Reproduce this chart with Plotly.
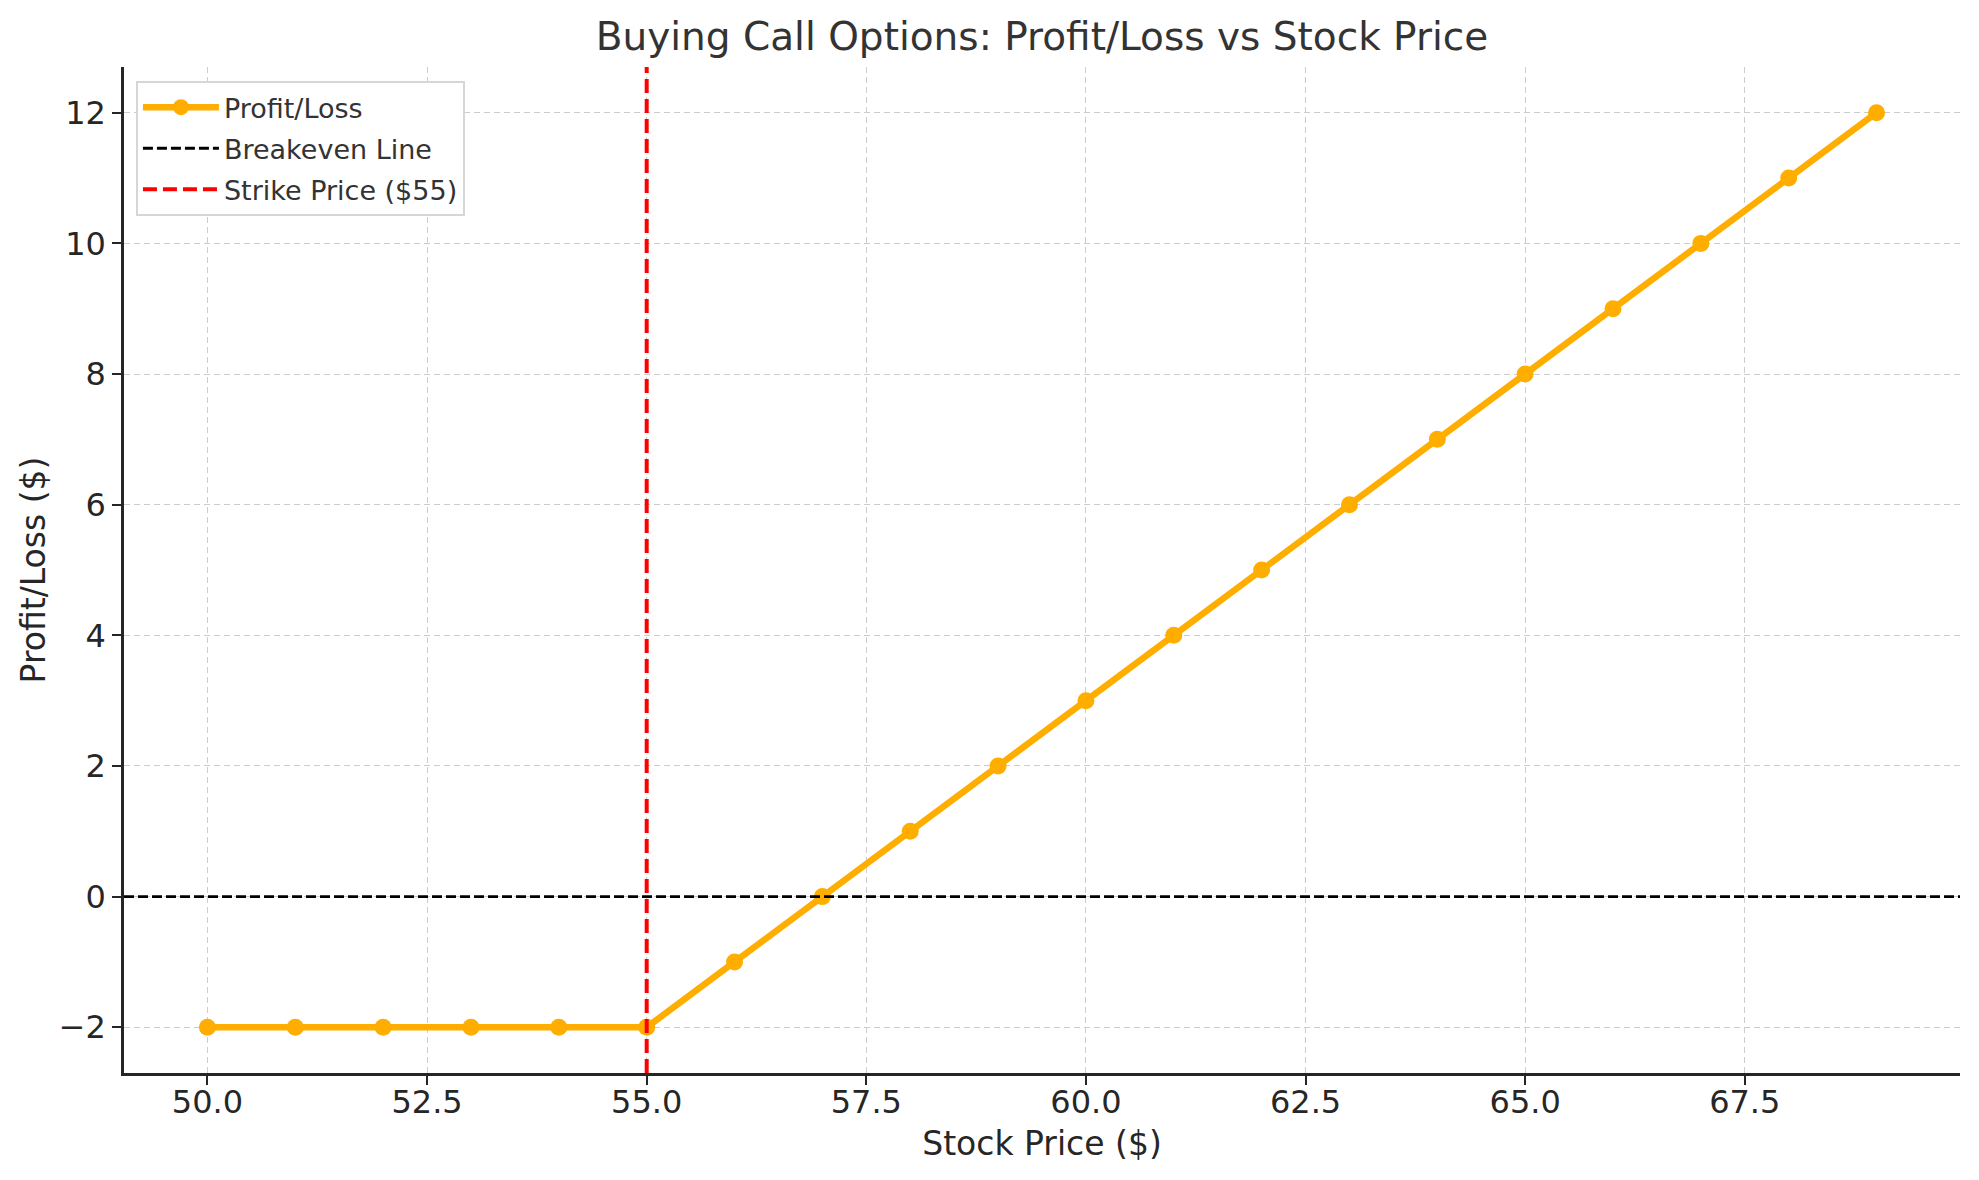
import plotly.graph_objects as go

# stock prices and resulting profit/loss for a long call (strike 55, premium 2)
stock_price = [50, 51, 52, 53, 54, 55, 56, 57, 58, 59,
               60, 61, 62, 63, 64, 65, 66, 67, 68, 69]
profit_loss = [-2, -2, -2, -2, -2, -2, -1, 0, 1, 2,
               3, 4, 5, 6, 7, 8, 9, 10, 11, 12]
strike = 55
breakeven = 0

x_ticks = [50.0, 52.5, 55.0, 57.5, 60.0, 62.5, 65.0, 67.5]
y_ticks = [-2, 0, 2, 4, 6, 8, 10, 12]

FONT = "DejaVu Sans"
LINE_COLOR = '#ffae00'

fig = go.Figure()

fig.add_trace(go.Scatter(
    x=stock_price,
    y=profit_loss,
    mode='lines+markers',
    name='Profit/Loss',
    line=dict(color=LINE_COLOR, width=6.5),
    marker=dict(color=LINE_COLOR, size=17),
    legendrank=1, legendgroup='a',
))

# breakeven line across the whole axis
fig.add_shape(
    type='line', xref='paper', yref='y',
    x0=0, x1=1, y0=breakeven, y1=breakeven,
    line=dict(color='black', width=2.8, dash='10px,4px'),
    name='Breakeven Line', showlegend=True, legendrank=2, legendgroup='b',
)
# strike price line
fig.add_shape(
    type='line', xref='x', yref='paper',
    x0=strike, x1=strike, y0=0, y1=1,
    line=dict(color='red', width=4, dash='14px,6px'),
    name='Strike Price ($55)', showlegend=True, legendrank=3, legendgroup='c',
)

axis_common = dict(
    showline=True, linecolor='#262626', linewidth=2.5,
    ticks='outside', ticklen=9, tickwidth=2.2, tickcolor='#262626',
    showgrid=True, gridcolor='#cccccc', gridwidth=1.4, griddash='6px,4px',
    zeroline=False, mirror=False, automargin=False,
    tickfont=dict(family=FONT, size=32, color='#262626'),
)

fig.update_xaxes(
    axis_common,
    range=[49.05, 69.95],
    tickvals=x_ticks, ticktext=[f'{v:.1f}' for v in x_ticks],
    ticklabelstandoff=-10,
    title=dict(text='Stock Price ($)', font=dict(family=FONT, size=33, color='#262626'), standoff=12),
)
fig.update_yaxes(
    axis_common,
    range=[-2.7, 12.7],
    tickvals=y_ticks,
    title=dict(text='Profit/Loss ($)', font=dict(family=FONT, size=33, color='#262626'), standoff=4),
)

fig.update_layout(
    width=1979, height=1180,
    margin=dict(l=116, r=27, t=59, b=115, autoexpand=False),
    plot_bgcolor='white', paper_bgcolor='white',
    title=dict(text='Buying Call Options: Profit/Loss vs Stock Price',
               font=dict(family=FONT, size=39, color='#333333'),
               x=0.5, xref='paper', xanchor='center', y=0.976, yanchor='middle'),
    legend=dict(
        x=0.0065, y=0.986, xanchor='left', yanchor='top',
        bgcolor='white', bordercolor='#d6d6d6', borderwidth=2,
        font=dict(family=FONT, size=27, color='#333333'),
        itemwidth=76, traceorder='grouped', tracegroupgap=3,
    ),
)

fig.write_html("out.html")
